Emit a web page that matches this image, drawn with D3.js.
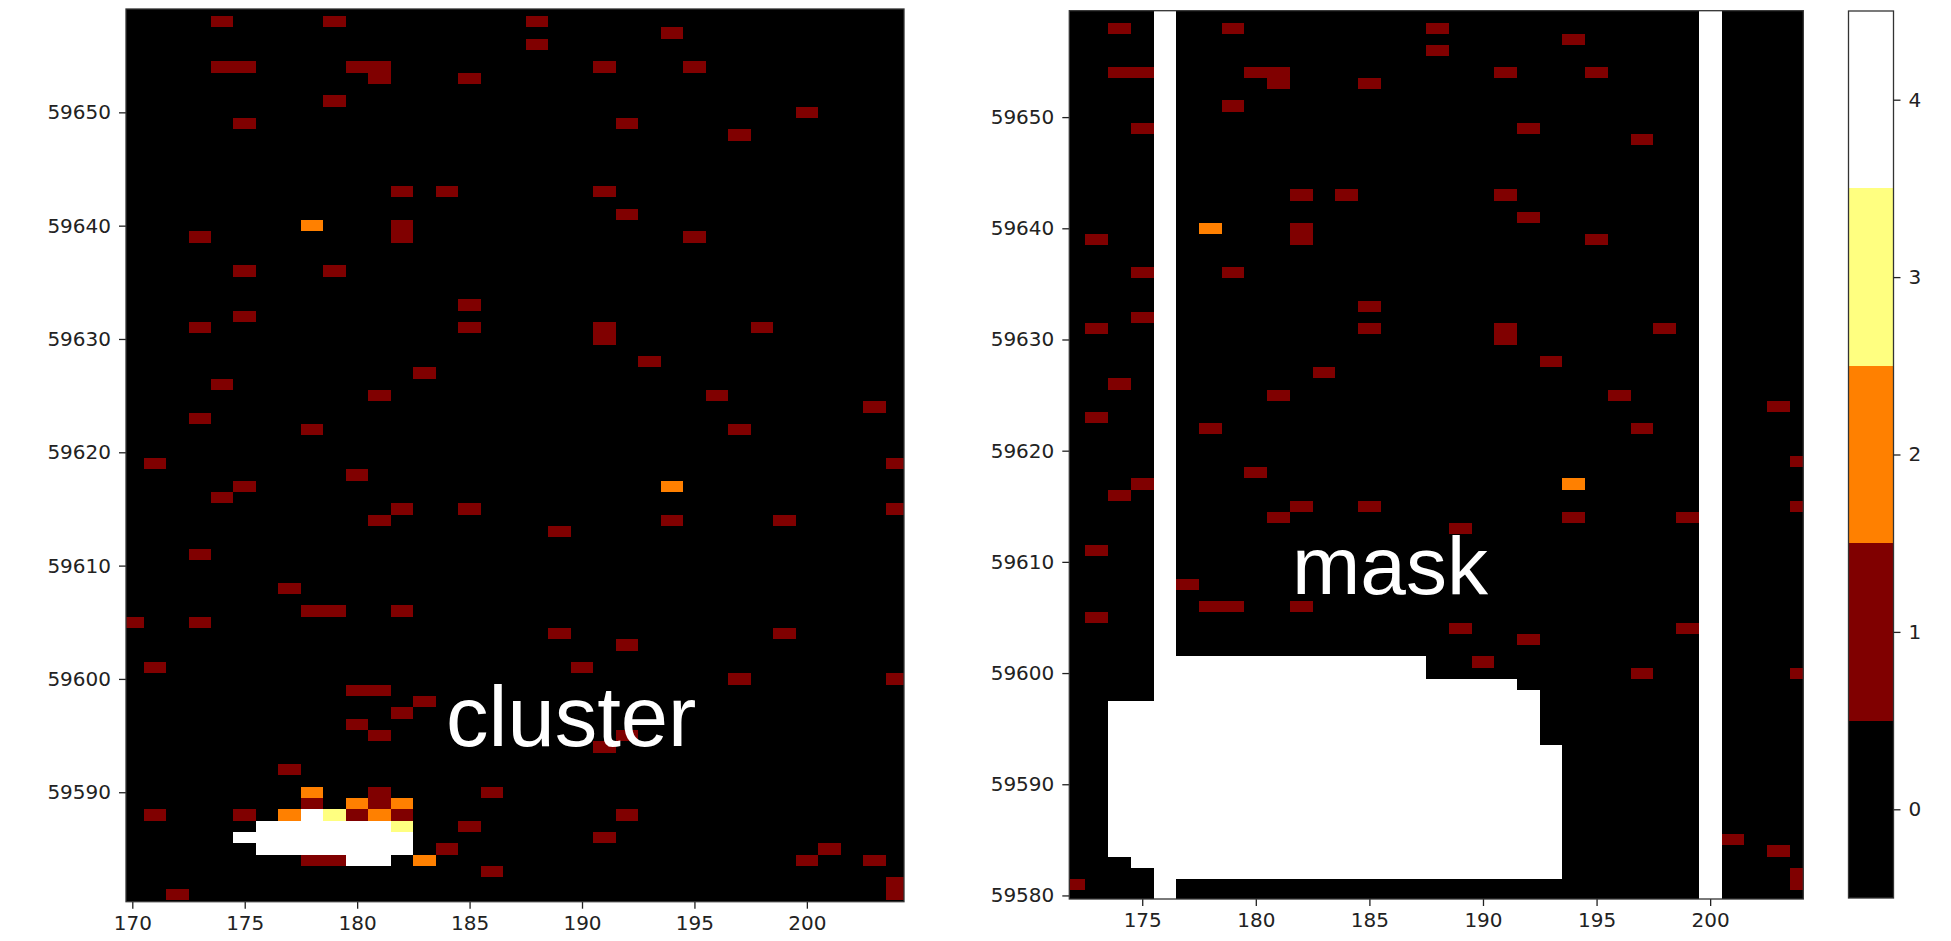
<!DOCTYPE html>
<html>
<head>
<meta charset="utf-8">
<script src="https://cdn.jsdelivr.net/npm/d3@7"></script>
<style>
  html, body { margin: 0; padding: 0; background: #fff; }
  svg { display: block; }
  .tick text { font-family: "DejaVu Sans", sans-serif; font-size: 20px; fill: #222; }
  .tick line { stroke: #222; stroke-width: 1.3; }
  .domain { display: none; }
  .label { font-family: "Liberation Sans", Arial, Helvetica, sans-serif; font-size: 82px; fill: #fff; }
</style>
</head>
<body>
<div id="chart"></div>
<script>
// Valeurs par niveau (afmhot discret, 0..4)
const levelColors = ["#000000", "#800000", "#ff8000", "#ffff80", "#ffffff"];

// niveau 1 : [y, [x...]]
const level1 = [
  [59658, [174, 179, 188]],
  [59657, [194]],
  [59656, [188]],
  [59654, [174, 175, 180, 181, 191, 195]],
  [59653, [181, 185]],
  [59651, [179]],
  [59650, [200]],
  [59649, [175, 192]],
  [59648, [197]],
  [59643, [182, 184, 191]],
  [59641, [192]],
  [59640, [182]],
  [59639, [173, 182, 195]],
  [59636, [175, 179]],
  [59633, [185]],
  [59632, [175]],
  [59631, [173, 185, 191, 198]],
  [59630, [191]],
  [59628, [193]],
  [59627, [183]],
  [59626, [174]],
  [59625, [181, 196]],
  [59624, [203]],
  [59623, [173]],
  [59622, [178, 197]],
  [59619, [171, 204]],
  [59618, [180]],
  [59617, [175]],
  [59616, [174]],
  [59615, [182, 185, 204]],
  [59614, [181, 194, 199]],
  [59613, [189]],
  [59611, [173]],
  [59608, [177]],
  [59606, [178, 179, 182]],
  [59605, [170, 173]],
  [59604, [189, 199]],
  [59603, [192]],
  [59601, [171, 190]],
  [59600, [197, 204]],
  [59599, [180, 181]],
  [59598, [183]],
  [59597, [182]],
  [59596, [180]],
  [59595, [181, 192]],
  [59594, [191]],
  [59592, [177]],
  [59590, [181, 186]],
  [59589, [178, 181]],
  [59588, [171, 175, 180, 182, 192]],
  [59587, [185]],
  [59586, [191]],
  [59585, [184, 201]],
  [59584, [178, 179, 200, 203]],
  [59583, [186]],
  [59582, [204]],
  [59581, [172, 204]]
];
const level2 = [
  [59640, [178]],
  [59617, [194]],
  [59590, [178]],
  [59589, [180, 182]],
  [59588, [177, 181]],
  [59584, [183]]
];
const level3 = [
  [59588, [179]],
  [59587, [182]]
];
const level4 = [
  [59588, [178]],
  [59587, [176, 177, 178, 179, 180, 181]],
  [59586, [175, 176, 177, 178, 179, 180, 181, 182]],
  [59585, [176, 177, 178, 179, 180, 181, 182]],
  [59584, [180, 181]]
];

// masque : [x, yMin, yMax]
const maskSpans = [
  [174, 59584, 59597],
  [175, 59583, 59597],
  [176, 59580, 59659],
  [177, 59582, 59601], [178, 59582, 59601], [179, 59582, 59601],
  [180, 59582, 59601], [181, 59582, 59601], [182, 59582, 59601],
  [183, 59582, 59601], [184, 59582, 59601], [185, 59582, 59601],
  [186, 59582, 59601], [187, 59582, 59601],
  [188, 59582, 59599], [189, 59582, 59599], [190, 59582, 59599], [191, 59582, 59599],
  [192, 59582, 59598],
  [193, 59582, 59593],
  [200, 59580, 59659]
];

const xTicksLeft = [170, 175, 180, 185, 190, 195, 200];
const yTicksLeft = [59590, 59600, 59610, 59620, 59630, 59640, 59650];
const xTicksRight = [175, 180, 185, 190, 195, 200];
const yTicksRight = [59580, 59590, 59600, 59610, 59620, 59630, 59640, 59650];
const cbTicks = [0, 1, 2, 3, 4];

// Aplatir en cellules
function flatten(rows, v) {
  const out = [];
  rows.forEach(([y, xs]) => xs.forEach(x => out.push({ x, y, v })));
  return out;
}
const cells = [].concat(flatten(level1, 1), flatten(level2, 2), flatten(level3, 3), flatten(level4, 4));
const maskCells = [];
maskSpans.forEach(([x, y0, y1]) => {
  for (let y = y0; y <= y1; y++) maskCells.push({ x, y, v: 4 });
});

const W = 1951, H = 941;
const svg = d3.select("#chart").append("svg").attr("width", W).attr("height", H);

function panel(id, xDom, xRange, yDom, yRange, data, xTicks, yTicks) {
  const x = d3.scaleLinear().domain(xDom).range(xRange);
  const y = d3.scaleLinear().domain(yDom).range(yRange);
  const g = svg.append("g");

  svg.append("clipPath").attr("id", id)
    .append("rect")
    .attr("x", xRange[0]).attr("y", yRange[1])
    .attr("width", xRange[1] - xRange[0]).attr("height", yRange[0] - yRange[1]);

  const plot = g.append("g").attr("clip-path", `url(#${id})`);
  plot.append("rect")
    .attr("x", xRange[0]).attr("y", yRange[1])
    .attr("width", xRange[1] - xRange[0]).attr("height", yRange[0] - yRange[1])
    .attr("fill", levelColors[0]);

  plot.selectAll(".cell")
    .data(data)
    .enter()
    .append("rect")
    .attr("class", "cell")
    .attr("x", d => x(d.x - 0.5))
    .attr("y", d => y(d.y + 0.5))
    .attr("width", d => x(d.x + 0.5) - x(d.x - 0.5))
    .attr("height", d => y(d.y - 0.5) - y(d.y + 0.5))
    .attr("fill", d => levelColors[d.v])
    .attr("shape-rendering", "crispEdges");

  g.append("g")
    .attr("transform", `translate(0,${yRange[0]})`)
    .call(d3.axisBottom(x).tickValues(xTicks).tickFormat(d3.format("d")).tickSize(7).tickPadding(7));
  g.append("g")
    .attr("transform", `translate(${xRange[0]},0)`)
    .call(d3.axisLeft(y).tickValues(yTicks).tickFormat(d3.format("d")).tickSize(7).tickPadding(8));

  g.append("rect")
    .attr("x", xRange[0]).attr("y", yRange[1])
    .attr("width", xRange[1] - xRange[0]).attr("height", yRange[0] - yRange[1])
    .attr("fill", "none").attr("stroke", "#333").attr("stroke-width", 1.3);
  return g;
}

// Panneau gauche : cluster
const left = panel("clipL", [169.72, 204.32], [126, 904], [59580.34, 59659.12], [901.7, 9],
  cells, xTicksLeft, yTicksLeft);
left.append("text").attr("class", "label").attr("x", 446).attr("y", 746)
  .style("font-size", "85px").text("cluster");

// Panneau droit : mask (les cellules du masque recouvrent les données)
const masked = cells.filter(c => c.v < 4).concat(maskCells);
const right = panel("clipR", [171.79, 204.1], [1069.3, 1803.3], [59579.68, 59659.57], [899, 10.7],
  masked, xTicksRight, yTicksRight);
right.append("text").attr("class", "label").attr("x", 1292).attr("y", 594).text("mask");

// Barre de couleur
const cbX = 1848.5, cbW = 45;
const cbY = d3.scaleLinear().domain([-0.5, 4.5]).range([898, 11]);
const cb = svg.append("g");
cb.selectAll(".seg")
  .data(cbTicks)
  .enter()
  .append("rect")
  .attr("x", cbX)
  .attr("y", d => cbY(d + 0.5))
  .attr("width", cbW)
  .attr("height", d => cbY(d - 0.5) - cbY(d + 0.5))
  .attr("fill", d => levelColors[d])
  .attr("shape-rendering", "crispEdges");
cb.append("rect")
  .attr("x", cbX).attr("y", 11).attr("width", cbW).attr("height", 887)
  .attr("fill", "none").attr("stroke", "#333").attr("stroke-width", 1.3);
cb.append("g")
  .attr("transform", `translate(${cbX + cbW},0)`)
  .call(d3.axisRight(cbY).tickValues(cbTicks).tickFormat(d3.format("d")).tickSize(7).tickPadding(8));
</script>
</body>
</html>
